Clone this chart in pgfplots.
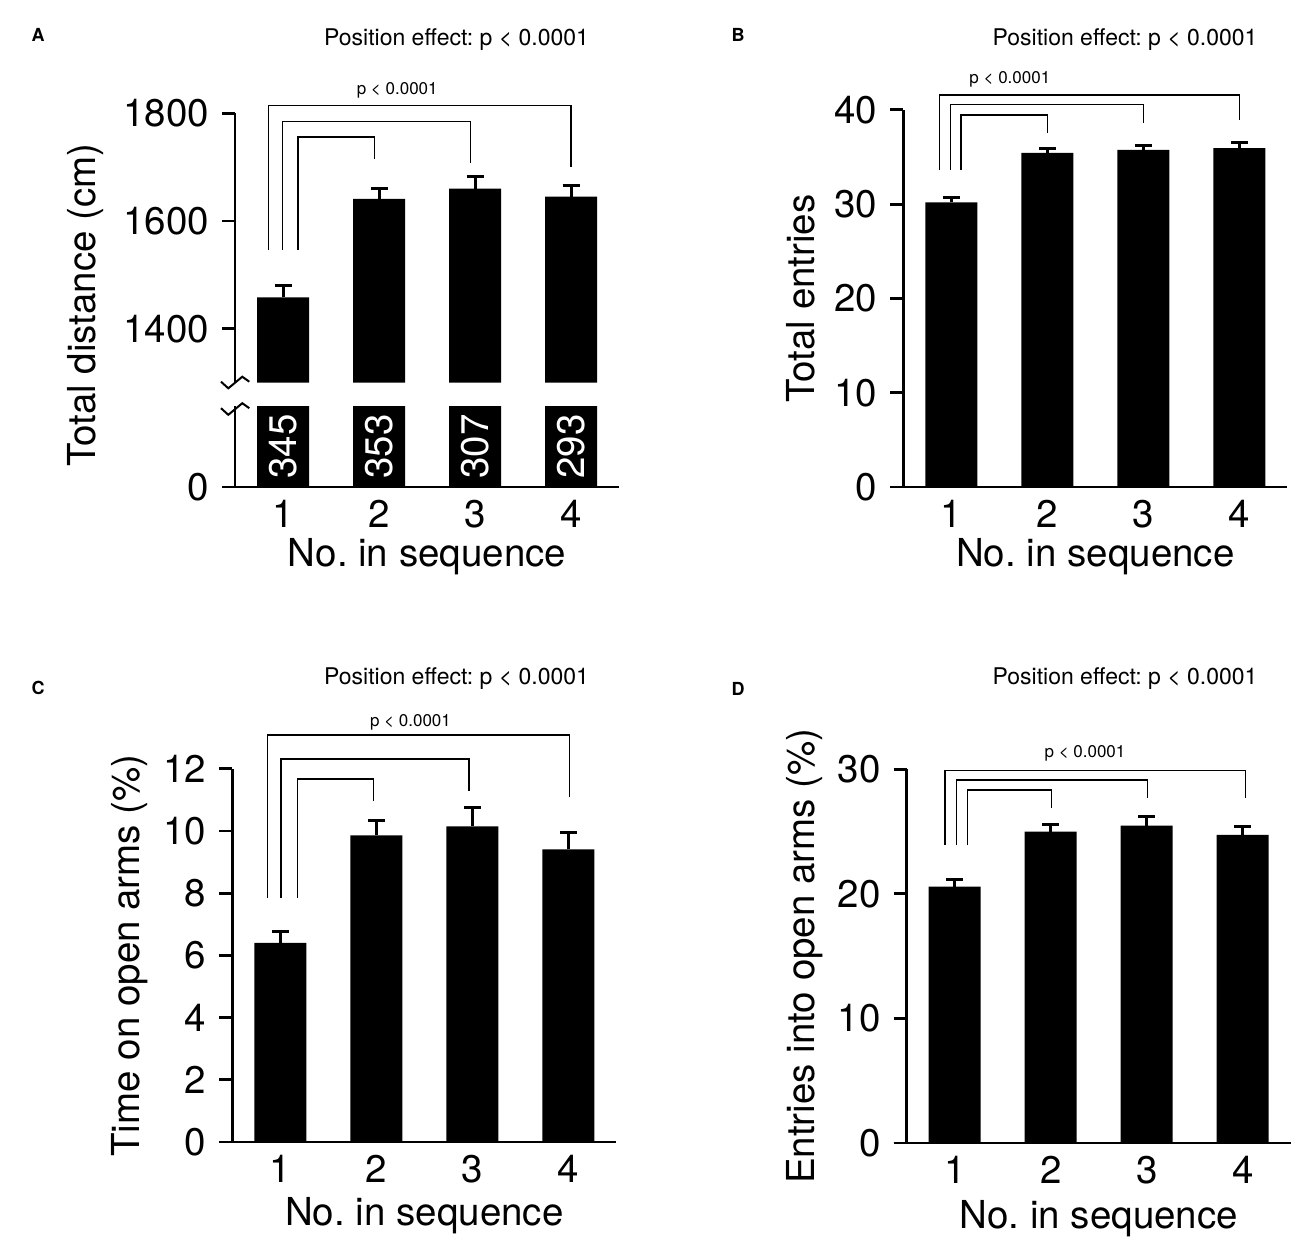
\documentclass[border=0pt]{standalone}
\usepackage{fontspec}
\setmainfont{TeX Gyre Heros}
\usepackage{pgfplots}
\pgfplotsset{compat=1.18}
\usepackage{pgfplotstable}

% means and SEM
\pgfplotstableread{
x y e
1 1458 22
2 1641 20
3 1660 22
4 1645 21
}\distA
\pgfplotstableread{
x y e
1 30.18 0.56
2 35.44 0.46
3 35.76 0.50
4 35.94 0.56
}\entB
\pgfplotstableread{
x y e
1 6.40 0.38
2 9.86 0.48
3 10.15 0.62
4 9.41 0.53
}\timeC
\pgfplotstableread{
x y e
1 20.59 0.59
2 25.00 0.56
3 25.48 0.70
4 24.73 0.65
}\openD

\newcommand{\labfont}{\fontsize{19.25}{23}\selectfont}
\newcommand{\pfont}{\fontsize{8.5}{10}\selectfont}
\newcommand{\efont}{\fontsize{11.5}{13}\selectfont}

\tikzset{brk/.style={line width=0.7pt, black}}
\pgfplotsset{
  panel/.style={
    x=48pt, xmin=0.5, xmax=4.5,
    axis lines=left, axis line style={line width=1.4pt,-},
    tick align=outside, major tick length=6.5pt,
    major tick style={line width=1.4pt,black},
    xtick={1,2,3,4}, xtick style={draw=none},
    tick label style={font=\labfont},
    xticklabel style={yshift=3.5pt},
    yticklabel style={xshift=-3pt},
    /pgf/number format/assume math mode=true,
    /pgf/number format/set thousands separator={},
    scaled y ticks=false,
    ybar, bar width=26pt,
    every axis y label/.style={at={(axis description cs:-0.267,0.5)},rotate=90,anchor=center,font=\labfont},
    every axis x label/.style={at={(axis description cs:0.5,0)},anchor=center,yshift=-35pt,font=\labfont},
    xlabel={No. in sequence},
  },
  bars/.style={ybar, fill=black, draw=none},
  errs/.style={error bars/.cd, y dir=plus, y explicit,
    error bar style={line width=1.5pt,black},
    error mark options={rotate=90,mark size=4.25pt,line width=1.5pt,black}},
}

\begin{document}
\frenchspacing
\begin{tikzpicture}
\useasboundingbox (0,0) rectangle (650pt,-622pt);

% ---------- A ----------
\begin{axis}[panel, at={(117.5pt,-191.25pt)}, anchor=south west,
  y=0.26925pt, ymin=1300, ymax=1800, ytick={1400,1600,1800},
  axis x line=none, xtick=\empty, xlabel={}, clip mode=individual]
\addplot[bars, errs] table[x=x,y=y,y error=e]{\distA};
\draw[brk] (axis cs:0.847,1546) |- (axis cs:4,1814.1) -- (axis cs:4,1700.3);
\draw[brk] (axis cs:0.993,1546) |- (axis cs:2.95,1785.1) -- (axis cs:2.95,1708.3);
\draw[brk] (axis cs:1.156,1546) |- (axis cs:1.951,1756) -- (axis cs:1.951,1715.1);
\node[font=\pfont] at (axis cs:2.19,1843) {p < 0.0001};
\end{axis}
\begin{axis}[panel, at={(117.5pt,-243.5pt)}, anchor=south west,
  y=0.405pt, ymin=0, ymax=100, ytick={0}, clip mode=individual]
\addplot[bars] table[x=x,y=y]{\distA};
\node[white,rotate=90,font=\labfont] at (axis cs:1,50) {345};
\node[white,rotate=90,font=\labfont] at (axis cs:2,50) {353};
\node[white,rotate=90,font=\labfont] at (axis cs:3,50) {307};
\node[white,rotate=90,font=\labfont] at (axis cs:4,50) {293};
\draw[line width=1.4pt] ([xshift=-6.5pt]axis cs:0.5,0) -- (axis cs:0.5,0);
\end{axis}
% axis break marks
\draw[line width=1pt] (110.5pt,-190.85pt) -- (114.15pt,-194.15pt) -- (121.15pt,-188.35pt) -- (124.65pt,-190.85pt);
\draw[line width=1pt] (110.5pt,-204.1pt) -- (114.15pt,-207.4pt) -- (121.15pt,-201.6pt) -- (124.65pt,-204.1pt);
\node[rotate=90,font=\labfont] at (43pt,-152.5pt) {Total distance (cm)};

% ---------- B ----------
\begin{axis}[panel, at={(451.65pt,-243.5pt)}, anchor=south west,
  y=4.715pt, ymin=0, ymax=40, ytick={0,10,20,30,40},
  ylabel={Total entries}, clip=false]
\addplot[bars, errs] table[x=x,y=y,y error=e]{\entB};
\draw[brk] (axis cs:0.875,33.6) |- (axis cs:4,41.57) -- (axis cs:4,38.92);
\draw[brk] (axis cs:0.994,33.6) |- (axis cs:3,40.58) -- (axis cs:3,38.57);
\draw[brk] (axis cs:1.101,33.6) |- (axis cs:2,39.45) -- (axis cs:2,37.57);
\node[font=\pfont] at (axis cs:1.61,43.27) {p < 0.0001};
\draw[line width=1.4pt] ([xshift=-6.5pt]axis cs:0.5,0) -- (axis cs:0.5,0);
\end{axis}

% ---------- C ----------
\begin{axis}[panel, at={(116.15pt,-571pt)}, anchor=south west,
  y=15.55pt, ymin=0, ymax=12, ytick={0,2,4,6,8,10,12},
  ylabel={Time on open arms (\%)}, clip=false,
  every axis x label/.style={at={(axis description cs:0.5,0)},anchor=center,yshift=-37pt,font=\labfont}]
\addplot[bars, errs] table[x=x,y=y,y error=e]{\timeC};
\draw[brk] (axis cs:0.869,7.84) |- (axis cs:4.01,13.09) -- (axis cs:4.01,11.08);
\draw[brk] (axis cs:1.007,7.84) |- (axis cs:2.966,12.32) -- (axis cs:2.966,11.29);
\draw[brk] (axis cs:1.177,7.84) |- (axis cs:1.969,11.67) -- (axis cs:1.969,10.97);
\node[font=\pfont] at (axis cs:2.356,13.48) {p < 0.0001};
\draw[line width=1.4pt] ([xshift=-6.5pt]axis cs:0.5,0) -- (axis cs:0.5,0);
\end{axis}

% ---------- D ----------
\begin{axis}[panel, at={(453.35pt,-571.5pt)}, anchor=south west,
  y=6.2285pt, ymin=0, ymax=30, ytick={0,10,20,30},
  ylabel={Entries into open arms (\%)}, clip=false,
  every axis x label/.style={at={(axis description cs:0.5,0)},anchor=center,yshift=-38pt,font=\labfont}]
\addplot[bars, errs] table[x=x,y=y,y error=e]{\openD};
\draw[brk] (axis cs:0.899,23.92) |- (axis cs:4.031,29.89) -- (axis cs:4.031,27.67);
\draw[brk] (axis cs:1.021,23.92) |- (axis cs:3.01,29.14) -- (axis cs:3.01,27.67);
\draw[brk] (axis cs:1.131,23.92) |- (axis cs:2.006,28.34) -- (axis cs:2.006,26.92);
\node[font=\pfont] at (axis cs:2.357,31.28) {p < 0.0001};
\draw[line width=1.4pt] ([xshift=-6.5pt]axis cs:0.5,0) -- (axis cs:0.5,0);
\end{axis}

% panel letters and overall tests
\node[font=\bfseries\fontsize{9}{10}\selectfont] at (19pt,-17.5pt) {A};
\node[font=\bfseries\fontsize{9}{10}\selectfont] at (369pt,-17.5pt) {B};
\node[font=\bfseries\fontsize{9}{10}\selectfont] at (19pt,-344pt) {C};
\node[font=\bfseries\fontsize{9}{10}\selectfont] at (369pt,-344.5pt) {D};
\node[font=\efont] at (228.25pt,-20pt) {Position effect: p < 0.0001};
\node[font=\efont] at (562.5pt,-20pt) {Position effect: p < 0.0001};
\node[font=\efont] at (228.25pt,-339.5pt) {Position effect: p < 0.0001};
\node[font=\efont] at (562.5pt,-339.5pt) {Position effect: p < 0.0001};
\end{tikzpicture}
\end{document}
